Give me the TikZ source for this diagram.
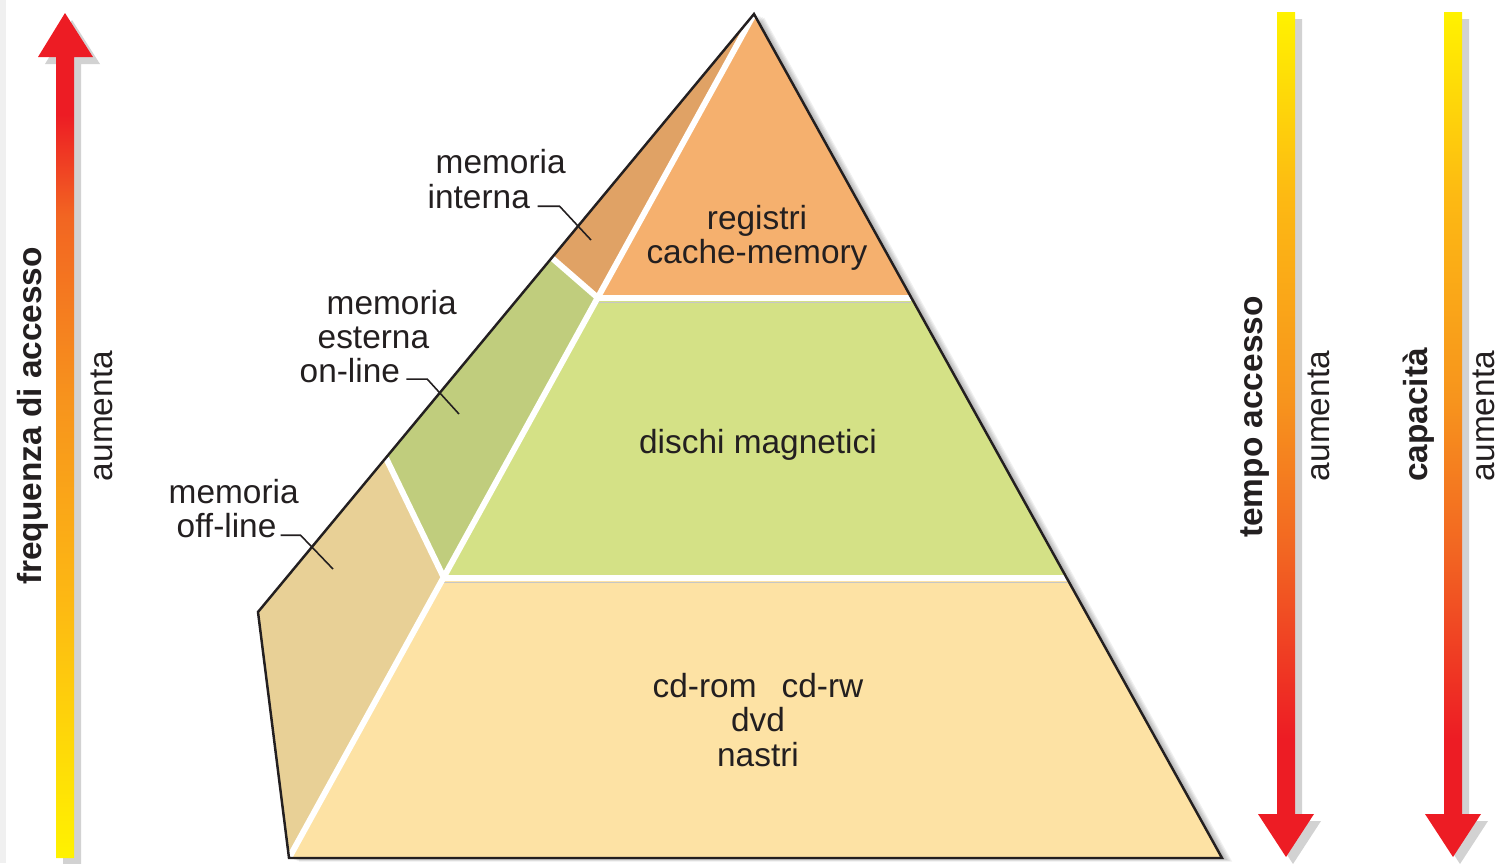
\documentclass[tikz,border=0pt]{standalone}
\usepackage{fontspec}
\setmainfont{Liberation Sans}

\definecolor{redA}{RGB}{237,28,36}
\definecolor{orangeA}{RGB}{242,101,34}
\definecolor{orangeB}{RGB}{247,148,29}
\definecolor{goldA}{RGB}{253,185,19}
\definecolor{yellowA}{RGB}{255,242,0}
\definecolor{textgray}{RGB}{35,31,32}
\definecolor{regface}{RGB}{245,176,110}
\definecolor{regside}{RGB}{224,162,101}
\definecolor{magface}{RGB}{212,225,134}
\definecolor{magside}{RGB}{192,205,125}
\definecolor{remface}{RGB}{253,226,164}
\definecolor{remside}{RGB}{232,208,150}

\pgfdeclareverticalshading{upshade}{100bp}{color(0bp)=(yellowA); color(25bp)=(yellowA); color(40bp)=(goldA); color(52bp)=(orangeB); color(63bp)=(orangeA); color(69bp)=(redA); color(100bp)=(redA)}
\pgfdeclareverticalshading{downshade}{100bp}{color(0bp)=(redA); color(32bp)=(redA); color(43bp)=(orangeA); color(52bp)=(orangeB); color(64bp)=(goldA); color(75bp)=(yellowA); color(100bp)=(yellowA)}

\tikzset{
	lbl/.style={inner sep=0pt, text=textgray, font=\fontsize{9.5}{9.7}\selectfont},
	lblb/.style={lbl, font=\fontsize{9.5}{9.7}\selectfont\bfseries},
	leader/.style={draw=textgray, line width=0.45pt},
	sep/.style={draw=white, line width=1.7pt},
}

\begin{document}
\begin{tikzpicture}[x=0.01cm, y=-0.01cm]
	\useasboundingbox (0,0) rectangle (1499,863);
	\fill[gray!12] (0,0) rectangle (6,863);
	
	\coordinate (apex) at (754,14);
	\coordinate (fl1) at (598,298);
	\coordinate (fl2) at (444,578);
	\coordinate (bl) at (289,858);
	\coordinate (fr1) at (911,298);
	\coordinate (fr2) at (1067,578);
	\coordinate (br) at (1222,858);
	\coordinate (sl1) at (552,258);
	\coordinate (sl2) at (386,458);
	\coordinate (sc) at (258,612);
	
	\foreach \s in {1,...,6}{
		\fill[black, opacity=0.06, shift={(1.7*\s,0.6*\s)}] (754,14) -- (258,612) -- (289,858) -- (1222,858) -- cycle;
	}
	
	\fill[regside] (apex) -- (sl1) -- (fl1) -- cycle;
	\fill[regface] (apex) -- (fl1) -- (fr1) -- cycle;
	\fill[magside] (sl1) -- (sl2) -- (fl2) -- (fl1) -- cycle;
	\fill[magface] (fl1) -- (fl2) -- (fr2) -- (fr1) -- cycle;
	\fill[remside] (sl2) -- (sc) -- (bl) -- (fl2) -- cycle;
	\fill[remface] (fl2) -- (bl) -- (br) -- (fr2) -- cycle;
	
	\draw[gray!45, line width=0.4pt] ([yshift=-1.2pt]fl1) -- ([yshift=-1.2pt]fr1);
	\draw[gray!45, line width=0.4pt] ([yshift=-1.2pt]fl2) -- ([yshift=-1.2pt]fr2);
	\draw[sep] (apex) -- (bl);
	\draw[sep] (sl1) -- (fl1) -- (fr1);
	\draw[sep] (sl2) -- (fl2) -- (fr2);
	\draw[textgray, line width=0.7pt] (apex) -- (sc) -- (bl) -- (br) -- cycle;
	
	\node[lbl, align=center] (reg) at (757,238) {registri\\cache-memory};
	\node[lbl] (mag) at (758,445) {dischi magnetici};
	\node[lbl, align=center] (rem) at (758,720) {cd-rom\hspace{0.75em}cd-rw\\dvd\\nastri};
	
	\node[lbl, anchor=base west] (int1) at (435,173) {memoria};
	\node[lbl, anchor=base west] (int2) at (427,208) {interna};
	\node[lbl, anchor=base west] (est1) at (326,314) {memoria};
	\node[lbl, anchor=base west] (est2) at (317,348) {esterna};
	\node[lbl, anchor=base west] (est3) at (299,382) {on-line};
	\node[lbl, anchor=base west] (off1) at (168,503) {memoria};
	\node[lbl, anchor=base west] (off2) at (176,537) {off-line};
	\coordinate (int-pt) at (591,240);
	\coordinate (est-pt) at (459,414);
	\coordinate (off-pt) at (333,569);
	\draw[leader] ([xshift=2pt, yshift=0.5pt]int2.base east) -- ++(22,0) -- (int-pt);
	\draw[leader] ([xshift=1.6pt, yshift=0.8pt]est3.base east) -- ++(21,0) -- (est-pt);
	\draw[leader] ([xshift=1pt, yshift=0.5pt]off2.base east) -- ++(20,0) -- (off-pt);
	
	\fill[gray!35, shift={(7,7)}] (56,858) -- (56,57) -- (38,57) -- (65,13) -- (93,57) -- (74,57) -- (74,858) -- cycle;
	\shade[shading=upshade] (56,858) -- (56,57) -- (38,57) -- (65,13) -- (93,57) -- (74,57) -- (74,858) -- cycle;
	\foreach \cx in {1286,1453}{
		\fill[gray!35, shift={(7,7)}] (\cx-9,12) -- (\cx-9,814) -- (\cx-28,814) -- (\cx,857) -- (\cx+28,814) -- (\cx+9,814) -- (\cx+9,12) -- cycle;
		\shade[shading=downshade] (\cx-9,12) -- (\cx-9,814) -- (\cx-28,814) -- (\cx,857) -- (\cx+28,814) -- (\cx+9,814) -- (\cx+9,12) -- cycle;
	}
	
	\node[lblb, rotate=90] (freq) at (33,416) {frequenza di accesso};
	\node[lbl, rotate=90] (freq-up) at (102,416) {aumenta};
	\node[lblb, rotate=90] (tempo) at (1255,417) {tempo accesso};
	\node[lbl, rotate=90] (tempo-up) at (1319,416) {aumenta};
	\node[lblb, rotate=90] (cap) at (1419,415) {capacità};
	\node[lbl, rotate=90] (cap-up) at (1484,416) {aumenta};
\end{tikzpicture}
\end{document}
